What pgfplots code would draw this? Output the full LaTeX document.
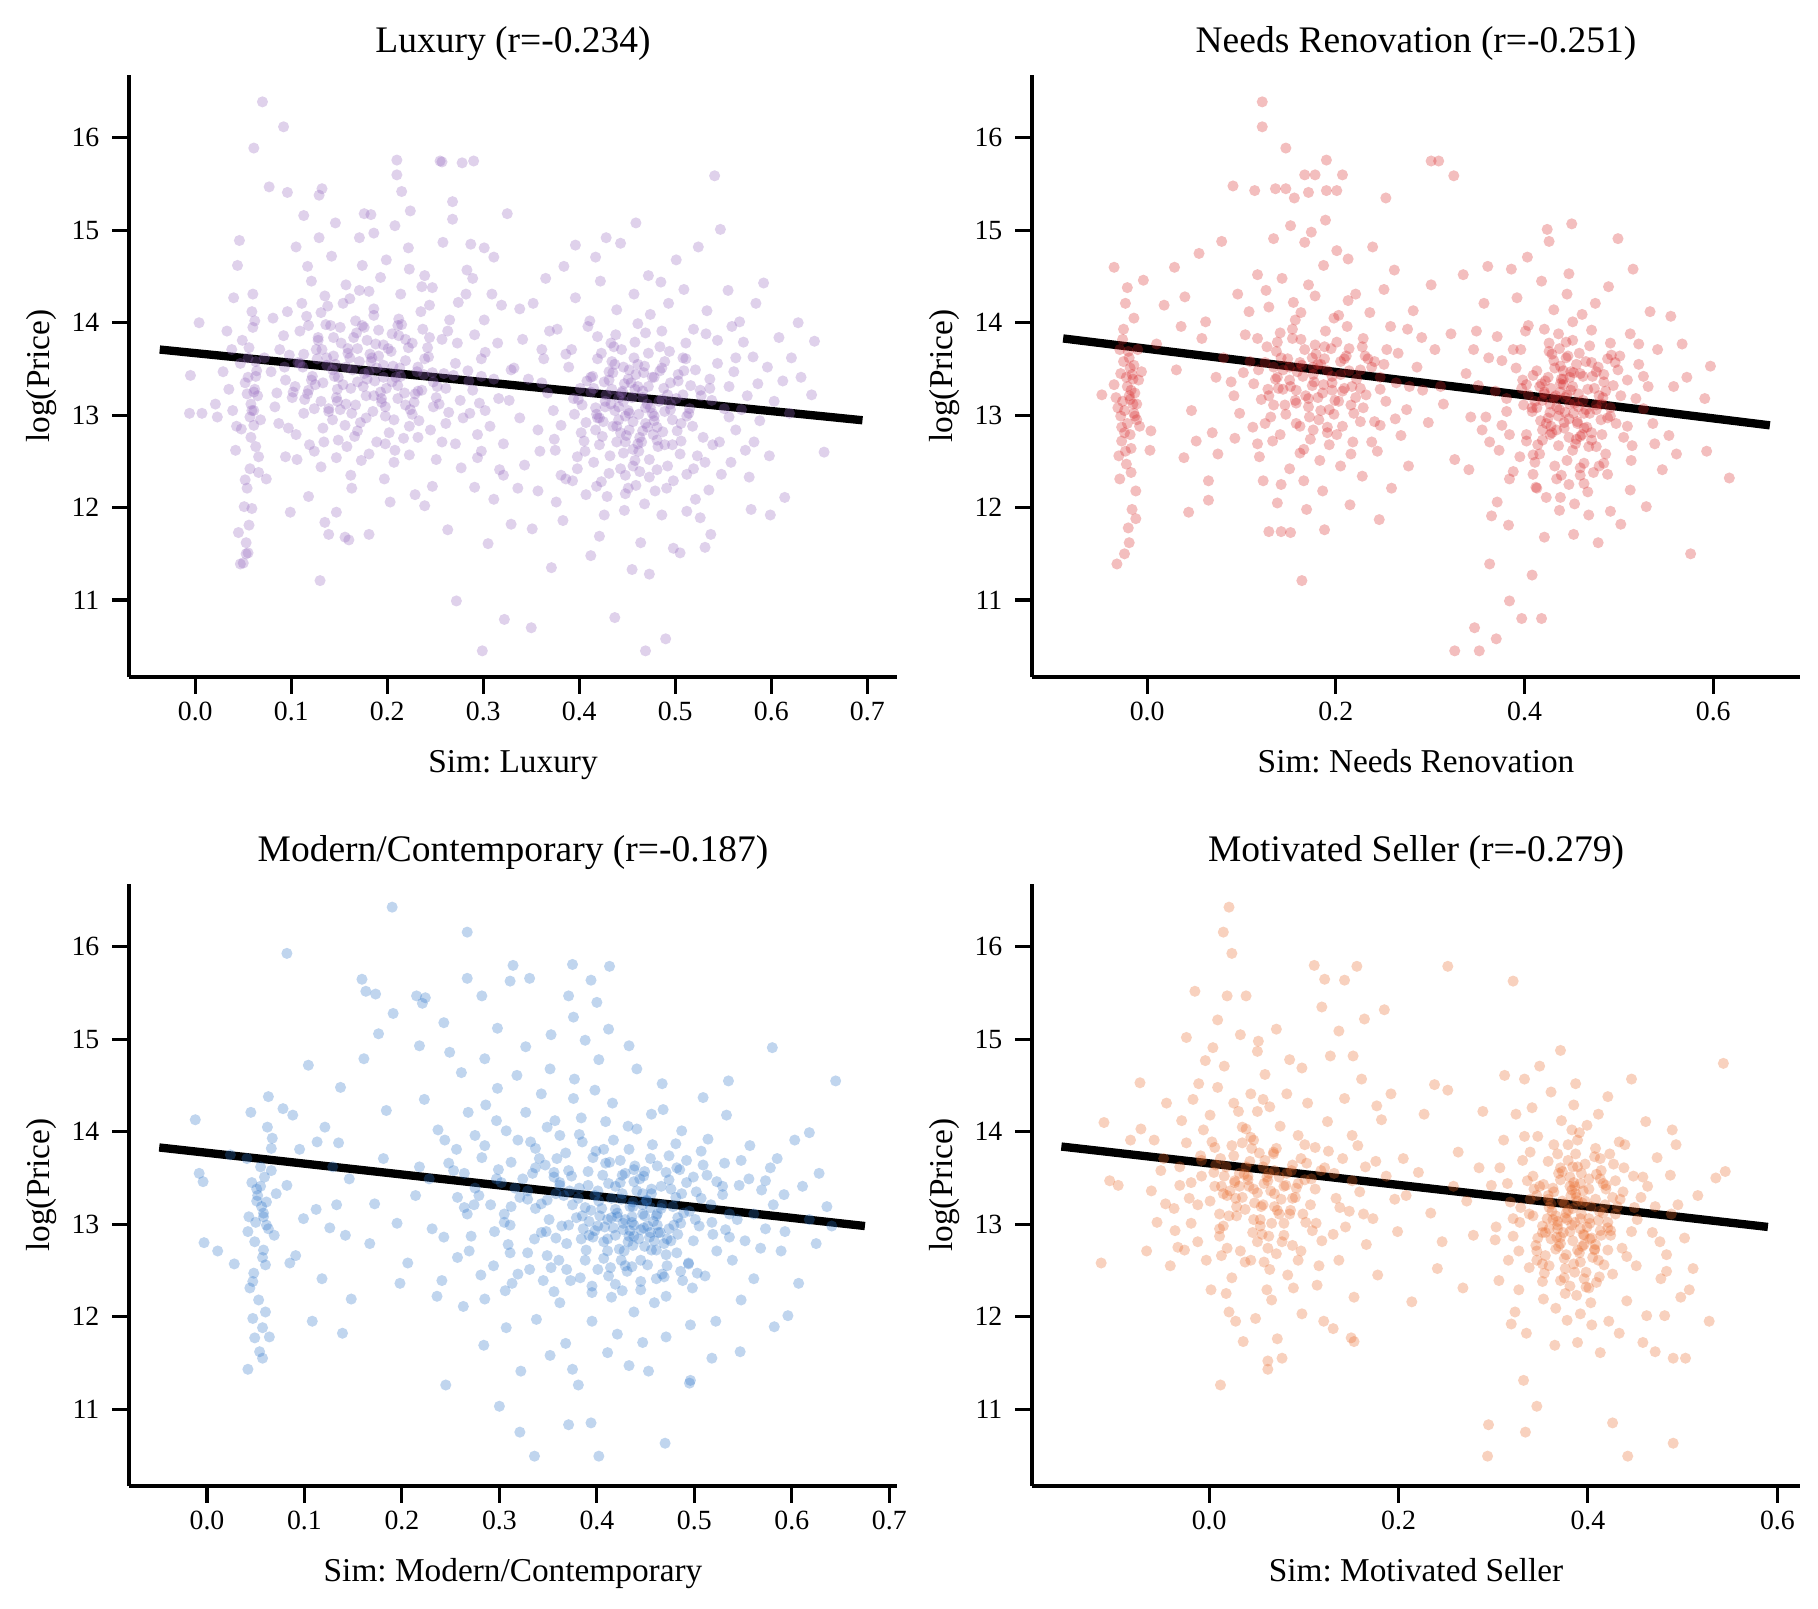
\documentclass[border=0pt]{standalone}
\usepackage{fontspec}
\setmainfont{Liberation Serif}
\usepackage{pgfplots}
\usepackage{pgfplotstable}
\pgfplotsset{compat=1.18}
\definecolor{cpurple}{RGB}{148,103,189}
\definecolor{cred}{RGB}{214,39,40}
\definecolor{cblue}{RGB}{46,117,200}
\definecolor{corange}{RGB}{232,104,40}
\frenchspacing

\pgfplotstableread{
x y
0.112 13.52
0.178 13.21
0.205 13.88
0.143 12.95
0.231 13.47
0.098 13.65
0.167 14.02
0.254 13.12
0.189 12.71
0.125 13.33
0.214 14.31
0.152 13.78
0.271 13.56
0.083 13.09
0.196 13.41
0.138 14.18
0.223 12.88
0.161 13.62
0.289 13.27
0.105 12.79
0.176 13.95
0.242 13.73
0.131 13.15
0.208 12.62
0.157 14.41
0.263 13.91
0.094 13.38
0.185 13.04
0.219 13.59
0.147 12.54
0.302 13.68
0.116 14.07
0.199 13.29
0.235 14.12
0.172 12.92
0.128 13.84
0.248 13.36
0.088 13.71
0.211 13.18
0.164 13.49
0.279 12.97
0.141 13.97
0.193 14.49
0.226 13.01
0.119 12.68
0.257 13.82
0.183 13.58
0.102 13.25
0.169 12.83
0.238 13.44
0.135 14.29
0.204 13.69
0.296 13.13
0.151 13.06
0.217 12.75
0.109 13.91
0.187 13.37
0.265 14.03
0.146 13.55
0.229 13.23
0.079 13.47
0.174 14.62
0.245 12.84
0.122 13.42
0.198 12.99
0.159 13.72
0.284 13.48
0.133 12.86
0.212 14.04
0.191 13.64
0.252 13.31
0.114 13.17
0.179 13.81
0.223 14.58
0.148 13.28
0.271 12.69
0.096 14.12
0.206 13.53
0.163 13.02
0.237 13.93
0.127 13.61
0.181 12.58
0.311 13.39
0.154 14.21
0.219 13.11
0.107 13.57
0.196 13.76
0.259 13.45
0.139 13.07
0.171 14.35
0.233 12.94
0.087 12.91
0.211 13.32
0.166 12.77
0.274 14.22
0.118 13.97
0.186 14.15
0.243 13.63
0.144 13.84
0.202 12.81
0.131 12.44
0.226 13.78
0.175 13.31
0.291 13.87
0.158 12.66
0.215 13.98
0.101 13.19
0.194 13.14
0.261 12.91
0.137 13.54
0.182 13.66
0.247 14.38
0.121 14.45
0.207 12.49
0.168 13.89
0.232 13.26
0.149 13.41
0.276 13.16
0.113 13.02
0.189 13.51
0.222 14.81
0.157 13.12
0.199 14.68
0.319 14.19
0.142 14.72
0.264 13.03
0.092 13.86
0.178 12.97
0.214 13.42
0.126 13.71
0.251 12.52
0.171 14.92
0.208 15.05
0.186 14.97
0.134 12.71
0.307 12.88
0.239 14.51
0.162 12.35
0.117 14.61
0.283 14.57
0.197 12.31
0.146 15.08
0.224 15.21
0.268 15.12
0.105 14.82
0.311 14.71
0.183 15.17
0.129 14.92
0.258 14.87
0.163 12.21
0.229 12.14
0.094 12.55
0.277 12.43
0.147 11.95
0.203 12.06
0.247 12.23
0.298 12.61
0.181 11.71
0.118 12.12
0.156 11.68
0.263 11.76
0.239 12.02
0.135 11.84
0.321 12.35
0.301 14.03
0.329 13.49
0.316 13.18
0.287 14.85
0.215 15.42
0.052 13.35
0.058 13.12
0.061 12.89
0.055 13.62
0.063 12.66
0.049 13.81
0.057 12.42
0.060 13.95
0.054 12.21
0.062 13.28
0.051 12.01
0.059 14.12
0.056 11.81
0.064 13.48
0.053 11.62
0.058 12.76
0.061 13.05
0.066 12.55
0.047 13.56
0.060 14.31
0.055 11.51
0.050 11.40
0.063 13.42
0.057 12.98
0.052 12.30
0.065 13.21
0.059 11.99
0.048 12.85
0.062 14.02
0.056 13.73
0.054 13.23
0.066 12.38
0.004 14.00
-0.005 13.43
-0.006 13.02
0.007 13.02
0.021 13.12
0.023 12.98
0.038 13.71
0.042 12.62
0.035 13.28
0.044 14.62
0.046 14.89
0.040 14.27
0.033 13.91
0.043 12.88
0.039 13.05
0.029 13.47
0.045 11.73
0.412 13.25
0.456 12.93
0.478 13.41
0.437 13.05
0.501 13.18
0.389 13.52
0.465 12.71
0.423 13.67
0.518 12.88
0.447 13.34
0.402 12.81
0.489 13.58
0.432 12.56
0.471 13.12
0.536 13.39
0.395 13.01
0.458 13.79
0.419 12.97
0.508 13.62
0.443 12.42
0.481 12.87
0.367 13.24
0.452 13.49
0.427 13.15
0.495 13.06
0.462 12.61
0.414 13.42
0.527 13.21
0.438 13.87
0.473 12.33
0.401 13.29
0.486 13.51
0.449 12.78
0.512 12.99
0.381 12.89
0.466 13.26
0.421 12.68
0.544 13.56
0.434 13.58
0.476 13.02
0.392 13.71
0.458 12.51
0.503 13.44
0.441 13.09
0.418 12.23
0.484 13.74
0.529 12.76
0.455 13.19
0.409 13.96
0.469 12.91
0.375 12.62
0.492 12.45
0.444 13.71
0.516 13.32
0.426 13.36
0.461 13.99
0.398 12.55
0.479 12.18
0.551 13.07
0.435 12.88
0.505 12.58
0.451 13.39
0.415 12.49
0.488 13.29
0.363 13.61
0.472 13.67
0.429 12.12
0.539 12.68
0.446 13.52
0.403 13.11
0.497 12.95
0.459 12.24
0.521 13.49
0.386 12.31
0.467 13.46
0.433 13.78
0.482 12.66
0.417 13.08
0.556 13.31
0.448 12.35
0.511 13.78
0.405 12.72
0.474 14.09
0.439 14.14
0.493 14.21
0.357 12.84
0.532 13.88
0.457 14.31
0.422 14.45
0.486 11.92
0.447 11.97
0.512 11.96
0.376 12.06
0.468 12.04
0.535 12.19
0.396 14.27
0.563 13.62
0.575 13.21
0.588 12.94
0.571 13.79
0.596 13.52
0.582 12.71
0.603 13.15
0.567 14.01
0.612 13.37
0.584 14.21
0.558 12.49
0.598 12.56
0.619 13.02
0.608 13.84
0.577 12.33
0.592 14.43
0.555 14.35
0.621 13.62
0.631 13.41
0.642 13.22
0.628 14.00
0.655 12.60
0.645 13.80
0.614 12.11
0.599 11.92
0.579 11.98
0.526 11.89
0.498 11.56
0.537 11.71
0.464 11.62
0.421 11.69
0.505 11.51
0.351 11.77
0.383 11.86
0.357 12.18
0.343 12.46
0.338 12.97
0.347 13.39
0.341 13.82
0.352 14.21
0.365 14.48
0.384 14.61
0.417 14.71
0.428 14.92
0.443 14.86
0.472 14.51
0.501 14.68
0.524 14.82
0.547 15.01
0.541 15.59
0.459 15.08
0.485 14.44
0.396 14.84
0.371 11.35
0.412 11.48
0.455 11.33
0.473 11.28
0.531 11.57
0.519 12.42
0.546 12.71
0.563 12.84
0.559 13.96
0.533 14.13
0.509 14.36
0.377 13.93
0.361 13.71
0.373 13.05
0.359 12.61
0.393 12.29
0.407 12.14
0.426 11.92
0.446 12.59
0.451 12.21
0.463 12.39
0.477 12.79
0.491 12.21
0.512 12.36
0.521 12.09
0.434 13.28
0.441 13.19
0.448 12.99
0.452 13.02
0.461 13.31
0.469 13.08
0.425 12.93
0.417 12.84
0.408 13.37
0.486 13.17
0.495 13.35
0.502 12.83
0.508 13.22
0.515 13.07
0.489 12.68
0.478 12.99
0.439 12.71
0.431 13.47
0.457 13.62
0.466 12.83
0.285 13.37
0.302 13.05
0.315 13.78
0.321 12.69
0.332 13.51
0.294 12.79
0.309 14.31
0.327 13.16
0.338 14.15
0.298 13.61
0.317 12.41
0.289 14.48
0.325 15.18
0.278 15.73
0.257 15.74
0.268 15.31
0.301 14.81
0.311 12.09
0.329 11.82
0.305 11.61
0.291 12.22
0.336 12.21
0.070 16.39
0.092 16.12
0.061 15.89
0.077 15.47
0.096 15.41
0.210 15.76
0.210 15.60
0.255 15.75
0.290 15.75
0.272 10.99
0.322 10.79
0.350 10.70
0.299 10.45
0.437 10.81
0.490 10.58
0.469 10.45
0.130 11.21
0.047 11.39
0.053 11.50
0.132 15.45
0.129 15.38
0.176 15.18
0.139 11.71
0.160 11.65
0.099 11.95
0.074 12.31
0.113 15.16
0.121 13.38
0.184 13.62
0.147 13.19
0.213 13.51
0.165 13.84
0.236 13.27
0.132 13.71
0.198 13.09
0.176 13.45
0.109 13.56
0.222 13.73
0.154 13.33
0.191 13.92
0.247 13.46
0.139 13.04
0.205 13.36
0.171 13.58
0.117 13.23
0.228 13.14
0.159 13.67
0.186 13.21
0.143 13.49
0.212 13.86
0.128 13.81
0.196 13.54
0.167 13.11
0.239 13.61
0.151 13.95
0.179 13.39
0.104 13.31
0.218 13.24
0.137 13.62
0.201 13.72
0.162 13.29
0.251 13.19
0.124 13.07
0.188 13.77
0.145 13.42
0.232 13.52
0.174 13.97
0.113 13.66
0.209 13.41
0.157 13.52
0.193 13.25
0.133 13.35
0.224 13.06
0.169 13.72
0.244 13.84
0.148 13.15
0.181 13.47
0.061 13.25
0.055 13.41
0.059 13.05
0.063 13.58
0.428 13.22
0.451 13.05
0.472 13.31
0.439 12.88
0.495 13.12
0.412 13.41
0.463 12.76
0.484 13.48
0.445 13.26
0.421 12.97
0.503 13.37
0.456 12.63
0.437 13.55
0.478 12.94
0.399 13.17
0.466 13.19
0.514 13.02
0.443 12.81
0.487 12.82
0.431 13.38
0.459 13.44
0.418 13.01
0.474 13.08
0.526 13.27
0.448 12.71
0.407 12.92
0.492 13.22
0.462 13.01
0.433 13.12
0.481 12.73
0.454 13.35
0.424 12.77
0.509 13.48
0.468 13.53
0.441 12.95
0.497 12.68
0.415 13.29
0.476 13.41
0.452 12.84
0.435 13.46
0.489 13.04
0.461 12.69
0.427 13.09
0.471 12.87
0.538 13.16
0.446 13.15
0.419 13.61
0.506 12.91
0.458 13.28
0.483 13.15
0.072 13.62
0.085 13.24
0.097 12.86
0.111 14.21
0.124 12.61
0.136 13.98
0.149 12.73
0.161 14.26
0.173 12.51
0.186 14.08
0.198 12.69
0.211 13.97
0.223 12.57
0.236 14.39
0.248 13.09
0.261 13.29
0.273 13.78
0.286 13.02
0.298 13.42
0.068 12.95
0.081 14.05
0.093 13.52
0.106 12.52
0.118 13.27
0.131 14.11
0.144 13.64
0.156 12.89
0.169 13.36
0.181 14.34
0.194 13.18
0.207 12.95
0.219 13.82
0.232 12.76
0.244 14.19
0.257 12.71
0.269 13.43
0.282 14.31
0.294 12.54
0.361 13.35
0.374 12.74
0.386 13.66
0.398 12.42
0.411 14.02
0.423 12.28
0.436 13.74
0.448 12.15
0.461 13.55
0.473 12.52
0.486 13.91
0.498 12.29
0.511 13.61
0.523 12.56
0.536 13.29
0.548 12.36
0.561 13.47
0.573 12.62
0.586 13.34
0.369 13.91
0.381 12.35
0.394 13.18
0.406 12.61
0.419 13.85
0.431 12.37
0.444 13.24
0.456 12.45
0.469 13.89
0.481 12.41
0.494 13.69
0.506 12.72
0.519 13.93
0.531 12.49
0.544 13.81
0.556 12.98
0.569 13.06
0.581 13.63
}\tabTL

\pgfplotstableread{
x y
-0.021 13.31
-0.015 13.12
-0.028 13.45
-0.011 12.95
-0.019 13.62
-0.024 12.81
-0.013 13.24
-0.031 13.08
-0.017 12.64
-0.026 13.82
-0.009 13.38
-0.022 12.47
-0.014 14.05
-0.029 12.31
-0.018 13.51
-0.012 12.18
-0.025 13.93
-0.016 11.98
-0.033 13.19
-0.020 11.78
-0.010 13.71
-0.027 12.72
-0.023 14.21
-0.008 12.88
-0.019 11.62
-0.030 12.56
-0.014 13.02
-0.021 14.38
-0.017 12.38
-0.035 13.33
-0.012 11.88
-0.025 13.58
-0.006 13.47
-0.018 13.17
-0.028 12.99
-0.048 13.22
-0.035 14.60
-0.004 14.46
-0.032 11.39
-0.024 11.50
0.004 12.83
0.010 13.77
0.018 14.19
0.003 12.62
0.029 14.60
0.040 14.28
0.055 14.75
0.079 14.88
0.039 12.54
0.065 12.29
0.065 12.08
0.031 13.49
0.047 13.05
0.058 13.83
0.069 12.81
0.073 13.41
0.052 12.72
0.036 13.96
0.062 14.01
0.075 12.58
0.044 11.95
0.081 13.62
0.102 13.46
0.168 13.21
0.195 13.72
0.131 12.98
0.222 13.39
0.149 13.61
0.184 13.05
0.117 13.83
0.207 12.88
0.159 13.47
0.241 13.58
0.173 12.74
0.128 13.28
0.198 14.05
0.146 13.11
0.232 13.22
0.189 13.91
0.112 12.87
0.214 13.48
0.162 12.59
0.254 13.71
0.177 13.36
0.137 13.69
0.203 13.15
0.155 14.22
0.226 12.93
0.121 13.17
0.191 12.81
0.264 13.35
0.141 13.89
0.211 13.64
0.171 14.41
0.098 13.02
0.236 14.11
0.183 12.51
0.152 13.31
0.218 12.71
0.126 14.35
0.196 13.27
0.275 13.06
0.164 13.54
0.247 12.89
0.133 12.72
0.187 14.62
0.229 13.83
0.109 13.58
0.171 13.09
0.205 12.45
0.143 14.48
0.258 13.96
0.178 13.76
0.119 12.55
0.221 14.31
0.158 12.91
0.196 13.42
0.138 13.41
0.286 13.52
0.166 12.29
0.244 12.61
0.212 13.96
0.181 13.19
0.151 12.42
0.234 13.61
0.127 13.74
0.269 12.78
0.193 12.68
0.157 14.03
0.216 13.11
0.175 13.62
0.108 14.12
0.251 14.36
0.142 12.25
0.201 14.78
0.167 14.87
0.228 12.34
0.186 12.18
0.134 14.91
0.292 13.27
0.262 14.57
0.152 15.05
0.189 15.11
0.174 14.98
0.213 14.69
0.239 14.82
0.117 14.52
0.298 12.92
0.277 12.45
0.305 13.71
0.282 14.13
0.301 14.41
0.169 11.98
0.215 12.03
0.138 12.05
0.246 11.87
0.188 11.76
0.152 11.73
0.123 12.29
0.093 12.75
0.089 13.36
0.096 14.31
0.311 13.31
0.259 12.21
0.181 13.55
0.198 13.01
0.163 13.82
0.144 13.28
0.226 13.49
0.209 13.29
0.172 12.98
0.157 13.16
0.187 13.33
0.219 13.02
0.134 13.52
0.176 13.44
0.205 13.58
0.247 13.28
0.421 13.25
0.447 12.96
0.462 13.42
0.408 13.08
0.483 13.19
0.391 13.51
0.455 12.74
0.429 13.66
0.497 12.91
0.438 13.34
0.402 12.79
0.471 13.57
0.416 12.58
0.453 13.13
0.509 13.38
0.381 13.04
0.444 13.79
0.425 12.97
0.488 13.61
0.432 12.45
0.466 12.87
0.369 13.26
0.441 13.48
0.419 13.16
0.476 13.06
0.451 12.62
0.409 13.43
0.502 13.21
0.436 13.88
0.459 12.35
0.397 13.29
0.478 13.52
0.427 12.79
0.491 12.99
0.376 12.89
0.449 13.27
0.414 12.68
0.521 13.55
0.431 13.59
0.463 13.02
0.388 13.71
0.445 12.51
0.484 13.44
0.434 13.09
0.412 12.22
0.469 13.75
0.505 12.76
0.443 13.19
0.404 13.97
0.456 12.91
0.373 12.62
0.479 12.45
0.437 13.72
0.494 13.32
0.422 13.37
0.451 14.01
0.395 12.55
0.467 12.17
0.526 13.07
0.428 12.88
0.486 12.58
0.441 13.39
0.411 12.49
0.474 13.29
0.362 13.62
0.458 13.67
0.423 12.11
0.514 12.67
0.438 13.53
0.399 13.11
0.481 12.95
0.447 12.25
0.499 13.49
0.384 12.31
0.452 13.46
0.426 13.78
0.468 12.66
0.413 13.08
0.531 13.31
0.439 12.35
0.491 13.78
0.402 12.72
0.461 14.09
0.431 14.14
0.475 14.21
0.355 12.84
0.512 13.88
0.445 14.31
0.418 14.45
0.468 11.92
0.437 11.97
0.491 11.96
0.371 12.06
0.453 12.04
0.512 12.19
0.392 14.27
0.349 13.91
0.338 13.45
0.343 12.98
0.341 12.41
0.357 14.21
0.365 11.91
0.383 11.81
0.421 11.68
0.452 11.71
0.478 11.62
0.386 14.58
0.403 14.71
0.426 14.88
0.361 14.61
0.447 14.53
0.489 14.39
0.515 14.58
0.533 14.12
0.541 13.71
0.536 12.91
0.546 12.41
0.529 12.01
0.502 11.82
0.473 12.38
0.461 12.79
0.442 12.92
0.433 13.21
0.448 13.41
0.457 13.23
0.419 12.84
0.427 13.03
0.465 13.06
0.416 13.31
0.409 12.57
0.471 12.73
0.455 13.55
0.436 12.67
0.482 13.12
0.398 13.38
0.463 12.48
0.444 13.62
0.381 13.18
0.492 13.65
0.518 13.18
0.346 13.71
0.335 14.52
0.326 12.52
0.314 13.12
0.322 13.88
0.555 14.07
0.567 13.77
0.591 13.18
0.597 13.53
0.593 12.61
0.617 12.32
0.576 11.50
0.561 12.58
0.553 12.78
0.572 13.41
0.558 13.31
0.122 16.39
0.122 16.12
0.147 15.89
0.190 15.76
0.167 15.60
0.178 15.60
0.207 15.60
0.301 15.75
0.309 15.75
0.325 15.59
0.091 15.48
0.114 15.43
0.136 15.45
0.147 15.45
0.156 15.35
0.171 15.41
0.190 15.43
0.201 15.43
0.253 15.35
0.326 10.45
0.352 10.45
0.370 10.58
0.347 10.70
0.397 10.80
0.418 10.80
0.384 10.99
0.164 11.21
0.363 11.39
0.408 11.27
0.499 14.91
0.450 15.07
0.424 15.01
0.129 11.74
0.142 11.74
0.151 13.38
0.184 13.55
0.129 13.21
0.205 13.44
0.167 13.71
0.221 13.19
0.142 13.62
0.193 13.06
0.175 13.32
0.118 13.49
0.238 13.52
0.158 13.13
0.201 13.79
0.136 13.39
0.186 13.24
0.162 13.57
0.217 13.31
0.147 13.01
0.179 13.66
0.229 13.08
0.125 13.57
0.196 13.35
0.154 13.83
0.209 13.61
0.171 13.18
0.139 13.29
0.191 13.48
0.247 13.41
0.165 13.42
0.182 12.95
0.214 13.72
0.144 13.49
0.199 13.16
0.158 13.27
0.231 13.64
0.176 13.52
0.134 13.11
0.207 13.26
0.188 13.74
0.162 12.88
0.431 13.19
0.452 13.02
0.418 13.34
0.467 13.28
0.442 12.86
0.476 13.11
0.404 13.22
0.459 13.45
0.437 13.06
0.488 12.97
0.423 12.91
0.451 13.31
0.413 13.48
0.471 12.81
0.439 13.39
0.462 13.16
0.427 13.12
0.484 13.36
0.447 12.76
0.408 13.04
0.456 12.93
0.432 13.51
0.479 13.21
0.419 12.73
0.465 13.58
0.445 13.22
0.491 13.08
0.428 13.29
0.454 12.69
0.436 12.99
0.472 13.42
0.411 13.15
0.448 13.12
0.463 12.86
0.425 13.41
0.482 12.79
0.441 13.33
0.457 13.09
0.434 12.84
0.469 13.02
0.417 12.94
0.449 13.47
0.476 12.66
0.438 13.25
0.402 13.33
0.459 12.77
0.443 13.03
0.421 13.23
0.486 13.26
0.429 12.81
-0.019 13.21
-0.024 13.05
-0.015 13.39
-0.021 12.91
-0.017 13.27
-0.026 13.15
-0.013 12.99
-0.022 13.41
0.092 13.21
0.104 13.87
0.117 12.69
0.129 14.17
0.141 12.79
0.154 13.93
0.166 12.63
0.178 14.29
0.191 12.87
0.203 14.08
0.216 12.58
0.228 13.74
0.241 12.93
0.253 13.15
0.266 13.67
0.278 13.31
0.291 13.84
0.113 13.34
0.125 12.91
0.138 13.79
0.151 13.52
0.163 14.11
0.176 12.84
0.188 13.61
0.201 12.79
0.213 14.24
0.226 13.29
0.238 12.71
0.251 13.55
0.263 12.96
0.276 13.93
0.351 13.32
0.363 12.71
0.376 13.59
0.388 12.39
0.401 13.91
0.413 12.21
0.426 13.69
0.438 12.11
0.451 13.81
0.463 12.26
0.476 13.47
0.488 12.36
0.501 13.64
0.513 12.51
0.526 13.42
0.538 12.69
0.359 12.98
0.371 13.85
0.384 12.79
0.396 13.71
0.409 12.36
0.421 13.93
0.434 12.31
0.446 13.64
0.459 12.43
0.471 13.92
0.484 12.48
0.496 13.57
0.509 12.88
0.521 13.77
-0.020 13.69
-0.027 12.87
-0.014 13.54
-0.023 12.61
-0.011 13.12
-0.029 13.71
-0.018 12.79
-0.016 13.44
}\tabTR

\pgfplotstableread{
x y
0.052 13.31
0.058 13.12
0.046 13.45
0.063 12.95
0.055 13.62
0.049 12.81
0.061 13.24
0.043 13.08
0.057 12.64
0.066 13.82
0.051 13.38
0.048 12.47
0.062 14.05
0.044 12.31
0.059 13.51
0.053 12.18
0.067 13.93
0.047 11.98
0.056 13.19
0.064 11.78
0.041 13.71
0.058 12.72
0.045 14.21
0.069 12.88
0.054 11.62
0.060 12.56
0.050 13.02
0.063 14.38
0.047 12.38
0.071 13.33
0.057 11.88
0.042 12.92
0.042 11.43
0.057 11.55
0.049 11.77
0.060 12.05
0.066 13.58
-0.012 14.13
-0.008 13.55
-0.004 13.46
-0.003 12.80
0.028 12.57
0.082 13.42
0.088 14.18
0.095 13.81
0.108 11.95
0.104 14.72
0.112 13.16
0.121 14.05
0.118 12.41
0.129 13.62
0.133 13.21
0.137 14.48
0.142 12.88
0.091 12.66
0.099 13.06
0.085 12.58
0.024 13.75
0.078 14.25
0.011 12.71
0.146 13.49
0.148 12.19
0.135 13.88
0.126 12.96
0.139 11.82
0.113 13.89
0.402 13.25
0.356 13.51
0.448 12.96
0.312 13.67
0.421 13.08
0.275 13.39
0.489 13.12
0.384 12.84
0.337 13.82
0.466 13.41
0.253 13.58
0.411 12.71
0.372 13.36
0.438 13.59
0.295 12.92
0.517 13.21
0.349 14.05
0.429 12.55
0.396 13.72
0.264 13.18
0.476 12.82
0.321 13.29
0.455 13.71
0.383 12.42
0.228 13.49
0.502 13.35
0.364 12.98
0.417 13.91
0.305 13.11
0.445 12.38
0.347 13.64
0.388 12.61
0.243 12.86
0.532 12.94
0.471 13.56
0.329 12.69
0.409 14.11
0.285 13.85
0.437 13.19
0.368 13.77
0.494 12.57
0.214 13.31
0.353 12.53
0.424 13.45
0.268 14.21
0.462 12.99
0.313 12.36
0.392 13.03
0.546 13.42
0.337 13.17
0.481 13.87
0.376 14.36
0.415 12.21
0.257 12.64
0.451 13.26
0.298 14.47
0.523 12.71
0.362 13.96
0.433 12.87
0.195 13.01
0.398 12.93
0.467 12.46
0.318 14.61
0.375 13.21
0.509 13.64
0.281 12.45
0.441 14.03
0.356 12.27
0.486 13.01
0.237 14.02
0.406 13.53
0.343 14.41
0.459 12.15
0.391 13.42
0.302 13.45
0.529 13.32
0.425 12.61
0.369 12.79
0.476 13.38
0.271 12.87
0.433 13.81
0.319 13.91
0.498 12.31
0.358 13.33
0.412 12.44
0.248 13.66
0.447 13.33
0.384 14.15
0.552 12.82
0.331 12.51
0.468 14.24
0.291 13.21
0.419 13.16
0.362 12.15
0.505 12.98
0.206 12.58
0.379 13.07
0.438 12.05
0.309 12.78
0.482 12.69
0.352 14.68
0.413 13.67
0.261 14.64
0.456 12.72
0.334 13.55
0.395 12.33
0.513 13.53
0.285 12.19
0.427 13.01
0.371 13.58
0.492 13.69
0.223 14.35
0.343 12.91
0.449 13.09
0.398 14.45
0.306 12.28
0.536 13.11
0.419 12.88
0.362 13.42
0.471 12.22
0.275 13.96
0.444 13.49
0.389 12.72
0.327 14.21
0.503 12.47
0.408 12.97
0.351 13.05
0.462 13.63
0.241 12.39
0.426 13.33
0.316 13.39
0.483 12.89
0.385 13.89
0.437 12.77
0.358 12.85
0.569 13.37
0.407 12.63
0.297 14.12
0.478 13.19
0.341 13.71
0.452 12.56
0.394 13.15
0.514 13.92
0.267 13.11
0.431 12.49
0.373 12.39
0.488 12.39
0.329 13.27
0.416 14.31
0.455 13.18
0.381 13.28
0.539 12.61
0.311 12.99
0.465 12.91
0.403 13.09
0.349 12.66
0.501 13.05
0.256 13.81
0.439 13.63
0.377 14.57
0.285 14.79
0.327 14.92
0.402 14.78
0.353 15.05
0.249 14.86
0.298 15.12
0.376 15.24
0.218 14.93
0.441 14.68
0.467 14.52
0.509 14.37
0.533 14.18
0.557 13.85
0.578 13.61
0.592 13.32
0.573 12.95
0.589 12.71
0.561 12.41
0.548 12.18
0.522 11.95
0.496 11.91
0.471 11.78
0.447 11.72
0.421 11.81
0.395 11.95
0.368 11.71
0.338 11.97
0.307 11.88
0.284 11.69
0.263 12.11
0.236 12.22
0.198 12.36
0.181 13.71
0.172 13.22
0.167 12.79
0.184 14.23
0.161 14.79
0.176 15.06
0.191 15.28
0.221 15.39
0.243 15.18
0.412 15.11
0.433 14.93
0.388 14.99
0.456 14.19
0.487 14.01
0.535 14.55
0.603 13.91
0.611 13.41
0.618 13.05
0.625 12.79
0.607 12.36
0.596 12.01
0.582 11.89
0.547 11.62
0.518 11.55
0.453 11.41
0.433 11.47
0.411 11.61
0.352 11.58
0.322 11.41
0.381 11.26
0.495 11.28
0.462 13.11
0.427 12.94
0.419 13.41
0.443 12.84
0.452 12.98
0.471 12.67
0.437 13.24
0.407 12.81
0.481 13.29
0.414 12.53
0.445 12.61
0.429 13.55
0.461 12.41
0.396 12.86
0.474 12.95
0.436 13.08
0.492 13.45
0.456 13.33
0.423 12.73
0.401 13.36
0.388 13.18
0.415 13.07
0.466 13.17
0.448 13.52
0.434 12.93
0.472 12.55
0.426 12.28
0.459 12.82
0.401 12.51
0.485 13.59
0.628 13.55
0.636 13.19
0.641 12.98
0.645 14.55
0.580 14.91
0.618 13.99
0.190 16.43
0.267 16.16
0.082 15.93
0.159 15.65
0.163 15.52
0.173 15.49
0.215 15.47
0.224 15.45
0.267 15.66
0.314 15.80
0.375 15.81
0.413 15.79
0.394 15.64
0.331 15.66
0.311 15.63
0.282 15.47
0.371 15.47
0.400 15.40
0.245 11.26
0.300 11.03
0.321 10.75
0.371 10.83
0.394 10.85
0.336 10.49
0.402 10.49
0.470 10.63
0.496 11.31
0.375 11.43
0.421 13.12
0.445 12.94
0.398 13.31
0.467 13.21
0.432 12.81
0.456 13.38
0.411 13.05
0.479 12.99
0.438 13.46
0.392 12.88
0.461 13.09
0.425 13.27
0.487 13.33
0.449 12.76
0.405 13.17
0.472 12.84
0.436 13.02
0.451 13.25
0.417 12.96
0.495 13.14
0.441 13.36
0.463 12.91
0.428 12.71
0.382 13.39
0.458 13.03
0.434 13.19
0.474 13.48
0.412 13.44
0.447 13.11
0.469 12.79
0.401 12.98
0.438 12.87
0.483 13.07
0.426 13.53
0.454 12.86
0.415 13.28
0.362 13.45
0.343 13.22
0.371 12.99
0.356 13.56
0.329 13.36
0.385 13.09
0.348 12.92
0.366 13.31
0.337 13.61
0.312 13.19
0.297 13.49
0.279 13.31
0.264 13.55
0.305 13.02
0.359 13.71
0.391 13.57
0.409 13.66
0.507 13.28
0.518 13.02
0.529 13.41
0.499 12.82
0.051 13.25
0.058 13.08
0.055 13.41
0.061 12.99
0.218 13.62
0.231 12.95
0.244 13.91
0.257 13.29
0.269 12.71
0.282 13.72
0.294 12.55
0.307 14.01
0.319 12.46
0.332 13.89
0.345 12.39
0.357 14.12
0.369 12.51
0.382 13.97
0.395 12.26
0.407 13.81
0.419 12.35
0.432 14.06
0.445 12.29
0.457 13.86
0.469 12.43
0.482 13.61
0.494 12.58
0.507 13.79
0.519 12.89
0.531 13.66
0.544 13.05
0.556 13.49
0.568 12.74
0.581 13.21
0.593 12.92
0.274 13.21
0.286 14.29
0.299 13.59
0.311 12.69
0.324 13.49
0.336 12.84
0.349 13.26
0.361 12.61
0.374 13.52
0.386 12.95
0.399 13.79
0.411 12.84
0.424 13.69
0.436 12.54
0.449 13.57
0.461 12.72
0.474 13.74
0.486 12.49
0.499 13.51
0.511 12.44
0.523 13.46
0.536 12.86
0.548 13.69
0.561 13.11
0.573 13.47
0.585 13.71
0.438 12.99
0.447 13.21
0.455 12.91
0.429 13.05
}\tabBL

\pgfplotstableread{
x y
-0.111 14.10
-0.105 13.47
-0.096 13.42
-0.114 12.58
-0.083 13.91
-0.073 14.53
-0.072 14.03
0.041 13.52
-0.012 13.21
0.068 13.78
0.015 12.98
0.092 13.39
-0.031 13.62
0.054 13.05
0.006 13.83
0.079 12.88
0.027 13.47
0.118 13.58
0.062 12.74
-0.021 13.28
0.035 14.05
0.085 13.11
-0.046 13.22
0.047 13.91
0.011 12.87
0.101 13.48
0.058 12.59
0.141 13.71
0.022 13.36
-0.008 13.69
0.072 13.15
0.031 14.22
0.109 12.93
-0.037 13.17
0.051 12.81
0.159 13.35
0.003 13.89
0.088 13.64
0.044 14.41
-0.055 13.02
0.125 14.11
0.064 12.51
0.019 13.31
0.097 12.71
-0.017 14.35
0.076 13.27
0.173 13.06
0.037 13.54
0.131 12.89
-0.026 12.72
0.059 14.62
0.112 13.83
-0.051 13.58
0.029 13.09
0.083 12.45
0.009 14.48
0.151 13.96
0.068 13.76
-0.041 12.55
0.104 14.31
0.046 12.91
0.081 13.42
0.013 13.41
0.187 13.52
0.061 12.29
0.137 12.61
0.094 13.96
0.055 13.19
0.024 12.42
0.122 13.61
-0.009 13.74
0.166 12.78
0.071 12.68
0.039 14.03
0.099 13.11
0.057 13.62
-0.029 14.12
0.143 14.36
0.018 12.25
0.085 14.78
0.051 14.87
0.114 12.34
0.066 12.18
0.004 14.91
0.196 13.27
0.161 14.57
0.033 15.05
0.071 15.11
0.052 14.98
0.098 14.69
0.128 14.82
-0.011 14.52
0.199 12.92
0.178 12.45
0.205 13.71
0.182 14.13
0.192 14.41
0.049 11.98
0.098 12.03
0.021 12.05
0.131 11.87
0.072 11.76
0.036 11.73
0.002 12.29
-0.033 12.75
-0.061 13.36
-0.045 14.31
0.208 13.31
0.153 12.21
0.063 13.55
0.079 13.01
0.045 13.82
0.028 13.28
0.108 13.49
0.091 13.29
0.054 12.98
0.038 13.16
0.069 13.33
0.102 13.02
0.016 13.52
0.058 13.44
0.087 13.58
0.134 13.28
-0.066 12.71
-0.058 13.91
-0.003 12.61
0.011 13.11
0.026 13.74
0.047 13.38
0.059 13.69
0.074 13.51
0.033 12.71
0.042 13.41
0.005 13.56
-0.019 13.45
0.064 14.27
0.016 14.71
0.089 12.31
0.116 12.55
0.148 13.14
0.165 13.62
0.177 14.28
0.152 14.82
0.137 15.09
0.119 15.35
0.009 15.21
-0.004 14.77
-0.024 15.02
0.121 11.95
0.153 11.73
0.028 11.95
0.062 11.52
0.221 13.56
0.234 13.12
0.246 12.81
0.258 13.41
0.227 14.19
0.263 13.78
0.241 12.52
0.272 13.25
0.252 14.45
0.285 13.61
0.214 12.16
0.279 12.88
0.238 14.51
0.268 12.31
0.289 14.22
0.377 13.12
0.352 12.91
0.401 13.38
0.363 13.05
0.418 13.21
0.336 13.47
0.389 12.72
0.371 13.61
0.424 12.88
0.382 13.31
0.345 12.77
0.409 13.54
0.359 12.55
0.393 13.11
0.437 13.35
0.328 13.02
0.387 13.76
0.368 12.95
0.414 13.58
0.375 12.42
0.404 12.85
0.318 13.24
0.385 13.45
0.362 13.14
0.411 13.04
0.392 12.59
0.349 13.41
0.431 13.19
0.379 13.86
0.398 12.32
0.339 13.27
0.413 13.49
0.369 12.76
0.421 12.96
0.321 12.87
0.389 13.25
0.355 12.66
0.448 13.52
0.373 13.57
0.402 13.01
0.331 13.69
0.386 12.48
0.419 13.42
0.376 13.07
0.353 12.19
0.407 13.73
0.436 12.74
0.384 13.17
0.347 13.95
0.395 12.89
0.316 12.61
0.412 12.43
0.379 13.69
0.426 13.29
0.364 13.35
0.391 13.99
0.338 12.53
0.403 12.15
0.452 13.05
0.371 12.86
0.417 12.56
0.383 13.37
0.354 12.47
0.408 13.27
0.307 13.61
0.397 13.65
0.366 12.09
0.441 12.65
0.381 13.51
0.342 13.09
0.413 12.93
0.388 12.23
0.429 13.47
0.327 12.29
0.392 13.44
0.368 13.76
0.405 12.64
0.357 13.06
0.456 13.29
0.381 12.33
0.423 13.76
0.346 12.71
0.399 14.07
0.372 14.12
0.411 14.19
0.302 12.83
0.439 13.86
0.385 14.29
0.361 14.43
0.404 11.91
0.378 11.96
0.422 11.95
0.323 12.05
0.392 12.03
0.441 12.17
0.341 14.26
0.311 13.91
0.298 13.42
0.303 12.97
0.306 12.39
0.324 14.19
0.319 11.92
0.335 11.82
0.365 11.69
0.389 11.72
0.413 11.61
0.333 14.57
0.349 14.71
0.371 14.88
0.312 14.61
0.387 14.52
0.421 14.38
0.446 14.57
0.461 14.11
0.473 13.72
0.468 12.91
0.477 12.41
0.462 12.01
0.433 11.82
0.409 12.37
0.396 12.78
0.381 12.92
0.375 13.22
0.386 13.41
0.394 13.23
0.361 12.84
0.368 13.03
0.401 13.06
0.358 13.31
0.352 12.57
0.407 12.73
0.393 13.55
0.377 12.67
0.416 13.12
0.343 13.38
0.398 12.48
0.384 13.62
0.329 13.18
0.427 13.65
0.449 13.18
0.487 13.53
0.495 13.21
0.502 12.85
0.511 12.52
0.498 12.21
0.516 13.31
0.489 14.02
0.481 12.01
0.458 11.72
0.471 11.62
0.483 12.67
0.493 13.86
0.507 12.29
0.021 16.43
0.015 16.16
0.024 15.93
-0.015 15.52
0.111 15.80
0.156 15.79
0.122 15.65
0.143 15.64
0.252 15.79
0.321 15.63
0.185 15.32
0.164 15.22
0.039 15.47
0.019 15.47
0.543 14.74
0.545 13.57
0.535 13.50
0.012 11.26
0.062 11.43
0.077 11.55
0.150 11.77
0.295 10.83
0.334 10.75
0.294 10.49
0.346 11.03
0.426 10.85
0.442 10.49
0.490 10.63
0.332 11.31
0.503 11.55
0.490 11.55
0.528 11.95
0.041 13.48
0.018 13.62
0.065 13.36
0.029 13.19
0.082 13.55
0.006 13.41
0.053 13.77
0.035 13.29
0.074 13.11
0.012 13.71
0.094 13.44
0.047 13.05
0.061 13.51
0.024 13.85
0.088 13.28
-0.008 13.52
0.039 13.62
0.071 13.82
0.057 13.21
0.103 13.66
0.015 13.33
0.044 13.94
0.079 13.41
0.032 13.55
0.066 13.01
0.001 13.25
0.051 13.34
0.097 13.71
0.027 13.45
0.086 13.15
0.043 13.68
0.069 13.58
0.011 12.95
0.056 12.89
0.035 13.88
0.112 13.38
0.077 12.81
0.021 13.09
0.062 13.47
0.048 13.23
0.378 13.05
0.396 12.88
0.361 13.22
0.412 13.14
0.371 12.79
0.387 13.33
0.352 12.98
0.424 12.93
0.381 13.41
0.366 13.09
0.403 13.19
0.374 12.91
0.419 13.38
0.391 12.69
0.358 13.27
0.408 12.78
0.383 12.99
0.397 13.25
0.367 12.86
0.429 13.11
0.388 13.29
0.402 12.84
0.375 12.63
0.346 13.31
0.399 12.97
0.379 13.15
0.416 13.44
0.363 13.39
0.392 13.06
0.407 12.72
0.355 12.91
0.384 12.82
0.421 13.02
0.371 13.48
0.394 12.76
0.359 13.18
0.338 13.11
0.347 12.85
0.385 12.57
0.411 12.61
0.434 13.27
0.369 13.55
0.389 13.62
0.342 13.52
0.401 13.49
0.376 12.52
0.414 12.88
0.353 13.43
0.395 13.36
0.366 12.73
-0.048 13.71
-0.036 12.93
-0.024 13.88
-0.012 12.81
0.001 14.18
0.013 12.66
0.026 14.31
0.038 12.59
0.051 14.22
0.063 12.87
0.075 14.06
0.088 12.77
0.101 13.86
0.113 13.01
0.126 13.79
0.138 13.18
0.151 13.47
0.163 13.11
0.176 13.68
-0.031 13.42
-0.019 13.01
-0.006 14.02
0.007 13.64
0.019 12.74
0.032 13.41
0.044 12.61
0.057 14.35
0.069 13.19
0.082 14.41
0.094 12.61
0.107 13.21
0.119 12.82
0.132 13.55
0.144 12.97
0.157 13.85
0.315 13.44
0.327 12.71
0.339 13.78
0.352 12.38
0.364 13.86
0.376 12.25
0.389 13.91
0.401 12.31
0.413 13.71
0.426 12.46
0.438 13.61
0.451 12.55
0.463 13.41
0.476 12.81
0.488 13.11
0.321 13.06
0.333 13.95
0.346 12.61
0.358 13.68
0.371 12.39
0.383 14.02
0.396 12.41
0.408 13.82
0.421 12.72
0.433 13.89
0.446 12.92
0.458 13.51
0.471 13.19
0.483 12.49
0.359 12.95
0.373 13.25
0.386 13.02
0.392 12.95
0.368 12.99
}\tabBR

\pgfplotsset{
  panel/.style={
    anchor=south west,
    width=276.5pt, height=216.7pt, scale only axis,
    axis x line*=bottom, axis y line*=left,
    axis line style={line width=1.1pt, black},
    tick align=outside,
    major tick length=6pt,
    every tick/.style={line width=1.1pt, black},
    ymin=10.167, ymax=16.68,
    ytick={11,12,13,14,15,16},
    /pgf/number format/assume math mode=true,
    tick label style={font=\fontsize{10}{12}\selectfont, inner sep=0pt},
    xticklabel style={anchor=base, yshift=-9.6pt,
      /pgf/number format/fixed, /pgf/number format/fixed zerofill,
      /pgf/number format/precision=1},
    yticklabel style={anchor=east, xshift=-4.5pt},
    every axis x label/.style={at={([yshift=-34.4pt]axis description cs:0.5,0)}, anchor=base, font=\fontsize{12}{14}\selectfont},
    every axis y label/.style={at={([xshift=-31.6pt]axis description cs:0,0.5)}, anchor=center, rotate=90, font=\fontsize{12}{14}\selectfont},
    title style={at={(axis description cs:0.5,1)}, anchor=base, yshift=2pt, font=\fontsize{13.5}{16}\selectfont},
    ylabel={log(Price)},
    clip=false,
  },
  dots/.style={only marks, color=#1, mark=*, mark size=2.0pt,
    mark options={draw opacity=0, fill=#1, fill opacity=0.3}},
  fit/.style={black, line width=3pt},
}

\begin{document}
\begin{tikzpicture}
\useasboundingbox (0,0) rectangle (654.48pt,578.88pt);
\begin{axis}[panel, at={(46.44pt,335.16pt)},
  xmin=-0.069, xmax=0.731, xtick={0,0.1,0.2,0.3,0.4,0.5,0.6,0.7},
  title={Luxury (r=-0.234)}, xlabel={Sim: Luxury}]
\addplot[dots=cpurple] table {\tabTL};
\addplot[fit] coordinates {(-0.037,13.71) (0.695,12.945)};
\end{axis}
\begin{axis}[panel, at={(371.52pt,335.16pt)},
  xmin=-0.122, xmax=0.692, xtick={0,0.2,0.4,0.6},
  title={Needs Renovation (r=-0.251)}, xlabel={Sim: Needs Renovation}]
\addplot[dots=cred] table {\tabTR};
\addplot[fit] coordinates {(-0.089,13.83) (0.660,12.89)};
\end{axis}
\begin{axis}[panel, at={(46.44pt,43.92pt)},
  xmin=-0.080, xmax=0.708, xtick={0,0.1,0.2,0.3,0.4,0.5,0.6,0.7},
  title={Modern/Contemporary (r=-0.187)}, xlabel={Sim: Modern/Contemporary}]
\addplot[dots=cblue] table {\tabBL};
\addplot[fit] coordinates {(-0.049,13.83) (0.675,12.98)};
\end{axis}
\begin{axis}[panel, at={(371.52pt,43.92pt)},
  xmin=-0.187, xmax=0.624, xtick={0,0.2,0.4,0.6},
  title={Motivated Seller (r=-0.279)}, xlabel={Sim: Motivated Seller}]
\addplot[dots=corange] table {\tabBR};
\addplot[fit] coordinates {(-0.156,13.84) (0.590,12.97)};
\end{axis}
\end{tikzpicture}
\end{document}
